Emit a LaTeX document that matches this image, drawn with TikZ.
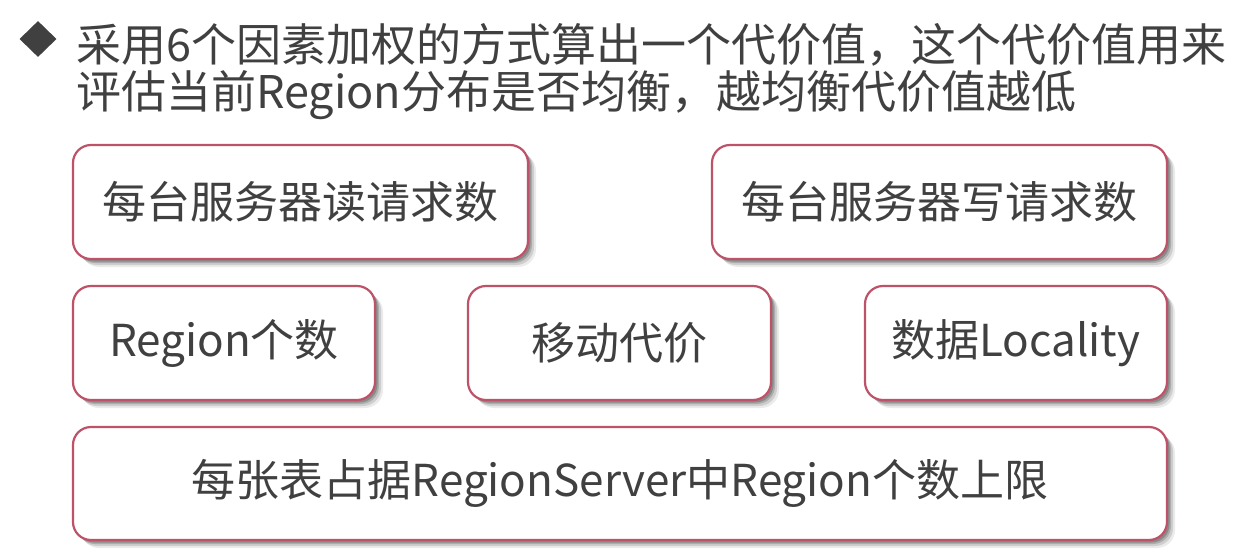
\documentclass[tikz,border=0pt]{standalone}
\usepackage{fontspec}
\setmainfont{Noto Sans CJK SC}
\usetikzlibrary{shapes.geometric}
\definecolor{txt}{RGB}{64,64,64}
\definecolor{edge}{RGB}{190,82,104}
\tikzset{
  pill/.style={draw=edge, line width=2.2pt, rounded corners=18pt, fill=white,
    text=txt, font=\fontsize{44}{50}\selectfont, inner sep=0pt},
  title/.style={text=txt, font=\fontsize{45}{50}\selectfont, anchor=west, inner sep=0pt},
}
\newcommand{\shadowbox}[4]{%
  \foreach \o/\a in {8/0.08,6/0.12,4/0.16,2.5/0.2}{
    \fill[black, opacity=\a, rounded corners=18pt] (#1+\o,#2+\o) rectangle (#3+\o,#4+\o);
  }%
}
\begin{document}
\begin{tikzpicture}[x=1pt,y=-1pt]
\useasboundingbox (0,0) rectangle (1249,550);
\fill[white] (0,0) rectangle (1249,550);
% bullet and title
\node[diamond, fill=txt, minimum width=37pt, minimum height=36pt, inner sep=0pt] (bullet) at (38,39) {};
\node[title] (t1) at (76,45) {采用6个因素加权的方式算出一个代价值，这个代价值用来};
\node[title] (t2) at (76,95) {评估当前Region分布是否均衡，越均衡代价值越低};
% shadows
\shadowbox{73}{145}{528}{259}
\shadowbox{712}{145}{1167}{259}
\shadowbox{73}{286}{375}{400}
\shadowbox{468}{286}{771}{400}
\shadowbox{865}{286}{1167}{400}
\shadowbox{73}{427}{1167}{540}
% boxes
\node[pill, minimum width=455pt, minimum height=114pt] (read) at (300.5,202) {每台服务器读请求数};
\node[pill, minimum width=455pt, minimum height=114pt] (write) at (939.5,202) {每台服务器写请求数};
\node[pill, minimum width=302pt, minimum height=114pt] (region) at (224,343) {Region个数};
\node[pill, minimum width=303pt, minimum height=114pt] (move) at (619.5,343) {移动代价};
\node[pill, minimum width=302pt, minimum height=114pt] (local) at (1016,343) {数据Locality};
\node[pill, minimum width=1094pt, minimum height=113pt] (limit) at (620,483.5) {每张表占据RegionServer中Region个数上限};
\end{tikzpicture}
\end{document}
